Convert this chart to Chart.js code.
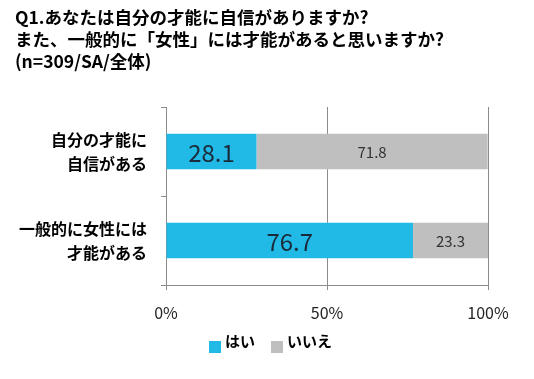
<!DOCTYPE html>
<html>
<head>
<meta charset="utf-8">
<script src="https://cdn.jsdelivr.net/npm/chart.js@4/dist/chart.umd.min.js"></script>
<style>
body { margin: 0; background: #fff; }
#wrap { width: 534px; height: 379px; }
</style>
</head>
<body>
<div id="wrap"><canvas id="ChartA" width="534" height="379"></canvas></div>
<script>
// survey data, percent of respondents
var categoryLabels = [["自分の才能に", "自信がある"], ["一般的に女性には", "才能がある"]];
var yesValues = [28.1, 76.7];
var noValues = [71.8, 23.3];
var seriesNames = ["はい", "いいえ"];
var titleLines = ["Q1.あなたは自分の才能に自信がありますか?", "また、一般的に「女性」には才能があると思いますか?", "(n=309/SA/全体)"];

var fontJP = "'Noto Sans CJK JP', 'Noto Sans', sans-serif";
var blue = "#21BAE6";
var grey = "#BFBFBF";
var axisGrey = "#8C8C8C";

// title, value labels and legend are painted by hand
var extrasPlugin = {
	id: "extras",
	afterDatasetsDraw: function(chart)
	{
		var ctx = chart.ctx;
		ctx.save();
		ctx.textAlign = "center";
		ctx.textBaseline = "middle";
		chart.data.datasets.forEach(function(ds, i)
		{
			var meta = chart.getDatasetMeta(i);
			meta.data.forEach(function(bar, j)
			{
				var cx = (bar.x + bar.base) / 2;
				if (i == 0) {
					ctx.font = "24px " + fontJP;
					ctx.fillStyle = "#1b2a3a";
				} else {
					ctx.font = "15px " + fontJP;
					ctx.fillStyle = "#333";
				}
				ctx.fillText(ds.data[j].toFixed(1), cx, bar.y + 1);
			});
		});
		ctx.restore();
	},
	afterDraw: function(chart)
	{
		var ctx = chart.ctx;
		ctx.save();
		ctx.fillStyle = "#000";
		ctx.textAlign = "left";
		ctx.textBaseline = "middle";
		ctx.font = "bold 17.5px " + fontJP;
		titleLines.forEach(function(t, i)
		{
			ctx.fillText(t, 15, 17 + i * 22);
		});

		// legend
		var items = [{x: 209, color: blue}, {x: 271, color: grey}];
		ctx.font = "bold 15px " + fontJP;
		items.forEach(function(it, i)
		{
			ctx.fillStyle = it.color;
			ctx.fillRect(it.x, 341, 12, 12);
			ctx.fillStyle = "#000";
			ctx.fillText(seriesNames[i], it.x + 16, 341);
		});
		ctx.restore();
	}
};

new Chart("ChartA",
{
	type: "bar",
	data:
	{
		labels: categoryLabels,
		datasets: [
		{
			label: seriesNames[0],
			data: yesValues,
			backgroundColor: blue,
			categoryPercentage: 1,
			barPercentage: 0.4
		},
		{
			label: seriesNames[1],
			data: noValues,
			backgroundColor: grey,
			categoryPercentage: 1,
			barPercentage: 0.4
		}]
	},
	options:
	{
		indexAxis: "y",
		responsive: false,
		animation: false,
		layout: { padding: { left: 0, top: 107, right: 46, bottom: 50 } },
		plugins:
		{
			legend: { display: false },
			title: { display: false },
			tooltip: { enabled: false }
		},
		scales:
		{
			x:
			{
				stacked: true,
				min: 0,
				max: 100,
				afterFit: function(s) { s.height = 44; },
				ticks:
				{
					stepSize: 50,
					padding: 13,
					color: "#222",
					font: { family: fontJP, size: 16 },
					callback: function(v) { return v + "%"; }
				},
				grid: { color: axisGrey, tickLength: 5 },
				border: { color: axisGrey }
			},
			y:
			{
				stacked: true,
				afterFit: function(s) { s.width = 166; },
				ticks:
				{
					padding: 14,
					color: "#000",
					font: { family: fontJP, size: 16, weight: "bold", lineHeight: 1.5 }
				},
				grid: { color: axisGrey, drawOnChartArea: false, tickLength: 5 },
				border: { color: axisGrey }
			}
		}
	},
	plugins: [extrasPlugin]
});
</script>
</body>
</html>
